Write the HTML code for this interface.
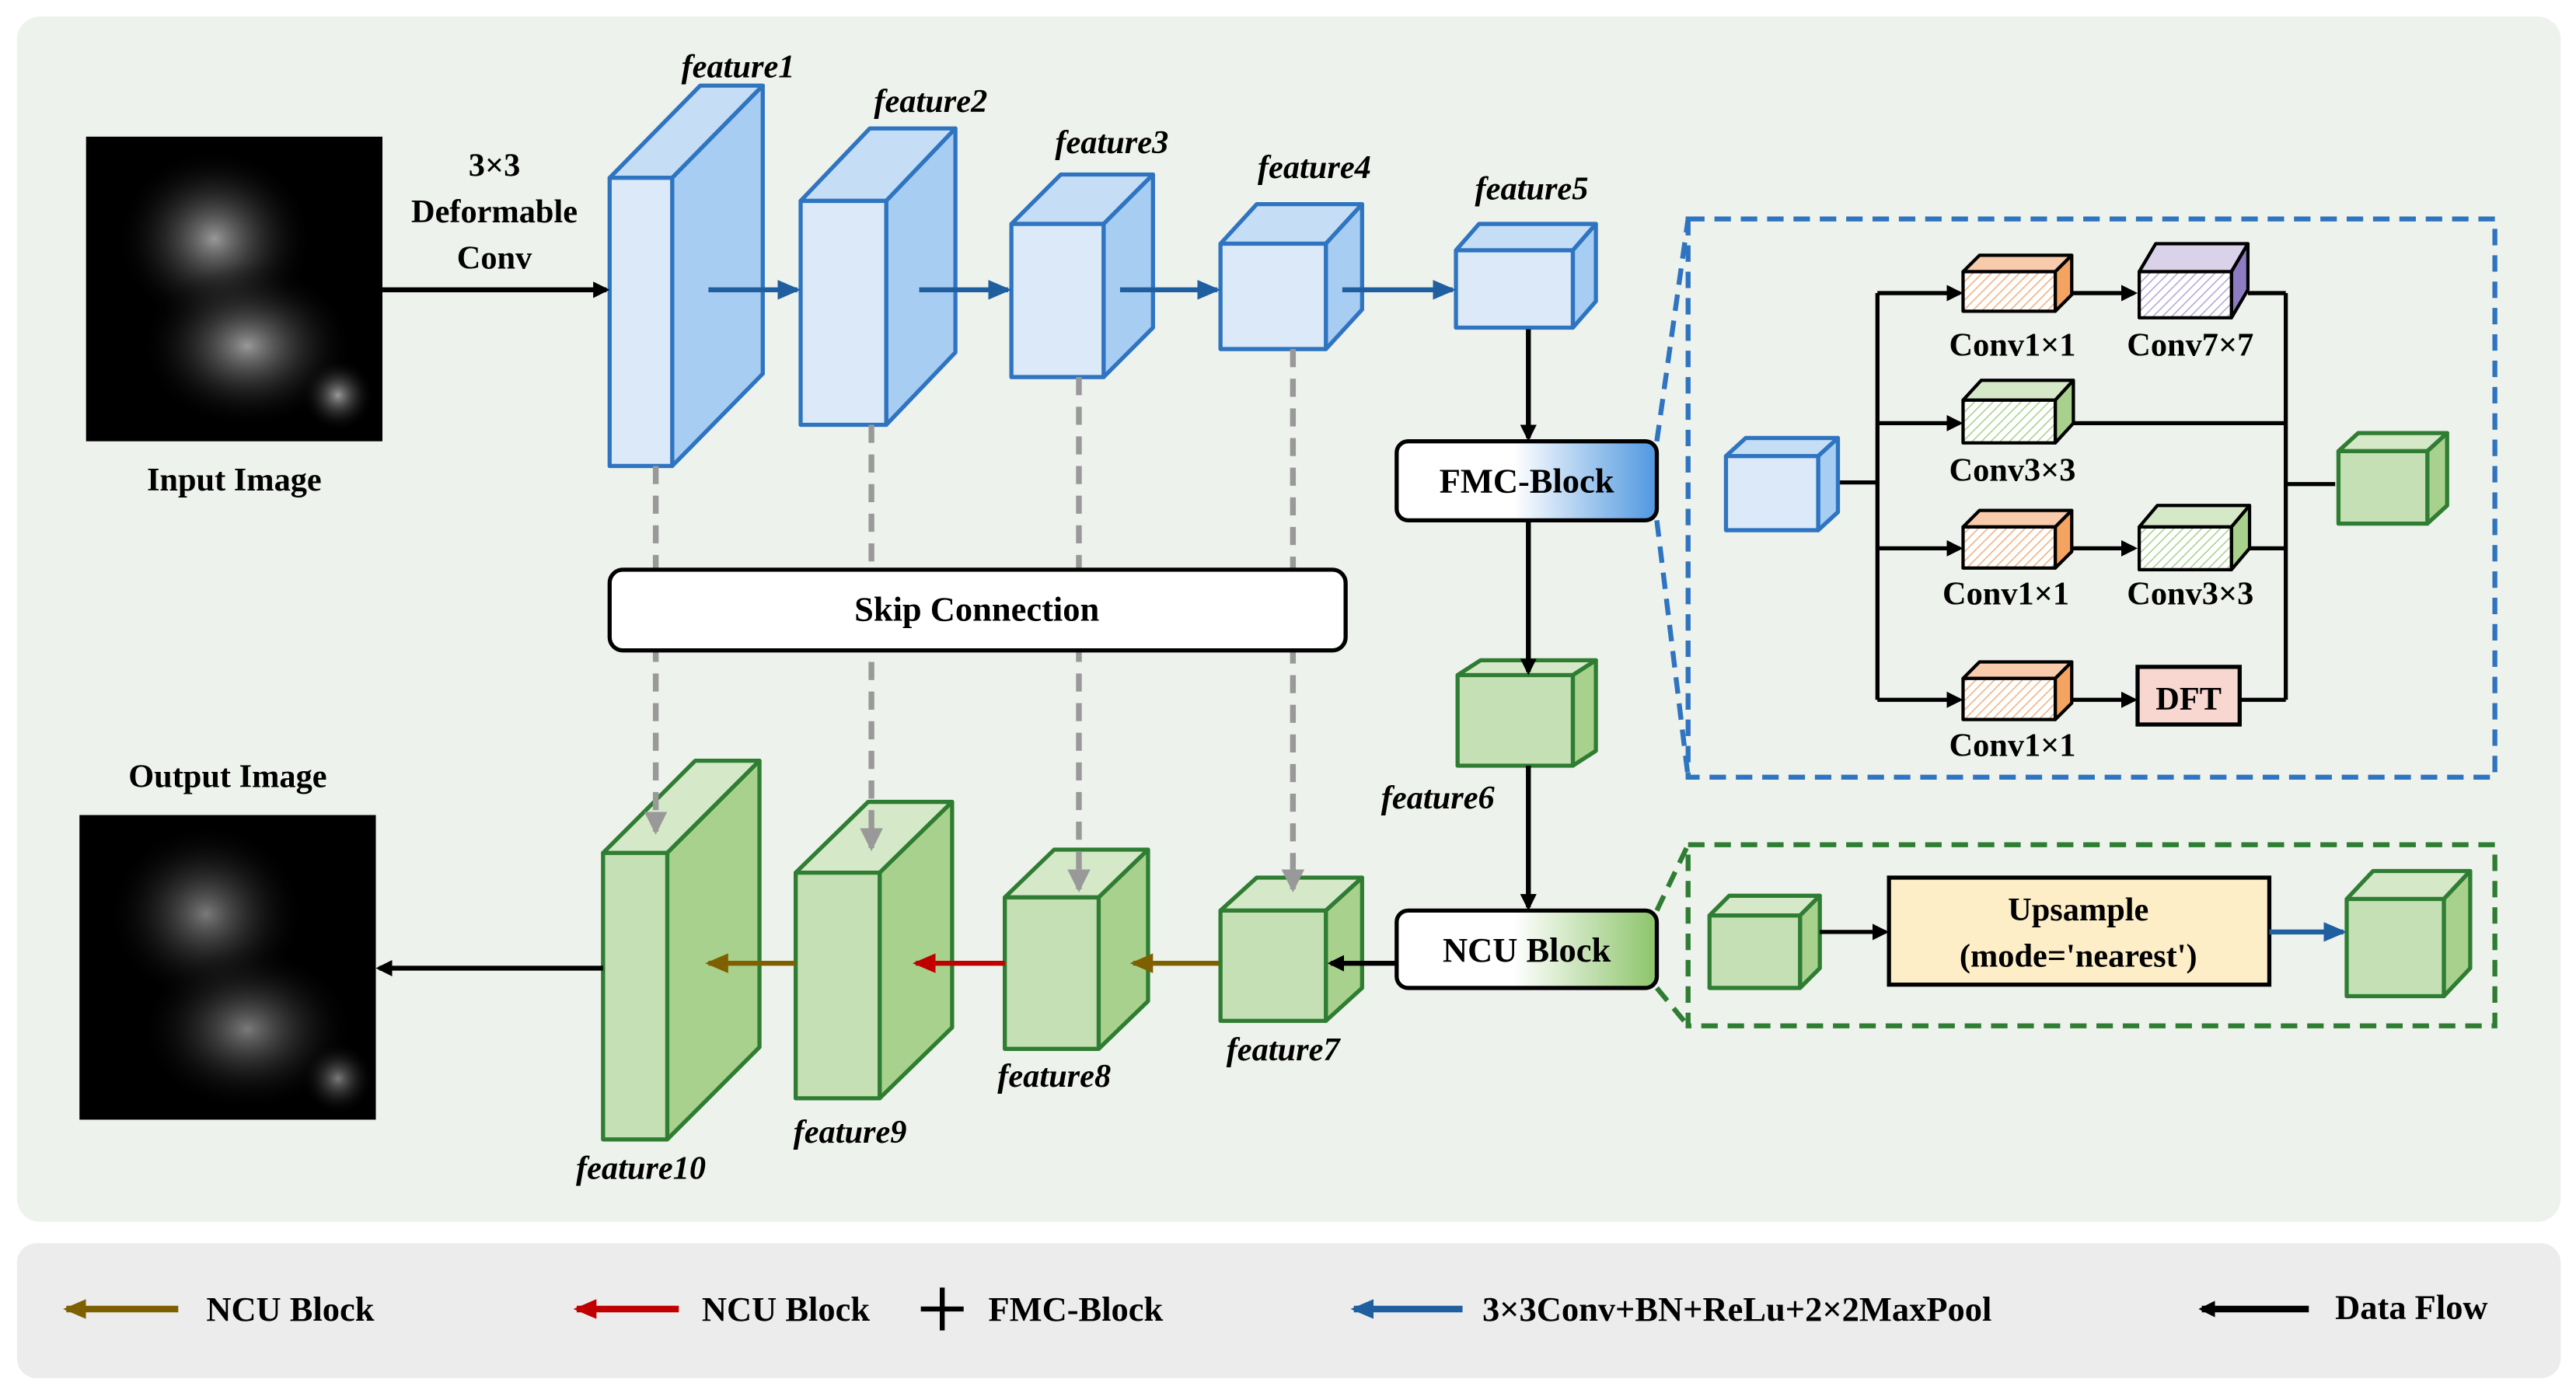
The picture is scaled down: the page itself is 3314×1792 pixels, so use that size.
<!DOCTYPE html>
<html><head><meta charset="utf-8"><style>
html,body{margin:0;padding:0;background:#fff;}
svg{display:block;}
text{font-family:"Liberation Serif",serif;font-weight:bold;fill:#000;}
</style></head><body>
<svg width="3314" height="1792" viewBox="0 0 1564 846" xmlns="http://www.w3.org/2000/svg">
<defs>
<marker id="ak" markerWidth="10" markerHeight="10" refX="8" refY="5" orient="auto" markerUnits="userSpaceOnUse"><path d="M0,0 L10,5 L0,10 z" fill="#000"/></marker>
<marker id="ab" markerWidth="14" markerHeight="12" refX="12" refY="6" orient="auto" markerUnits="userSpaceOnUse"><path d="M0,0 L14,6 L0,12 z" fill="#1f5fa0"/></marker>
<marker id="ag" markerWidth="14" markerHeight="14" refX="12" refY="7" orient="auto" markerUnits="userSpaceOnUse"><path d="M0,0 L14,7 L0,14 z" fill="#999"/></marker>
<marker id="abr" markerWidth="14" markerHeight="12" refX="12" refY="6" orient="auto" markerUnits="userSpaceOnUse"><path d="M0,0 L14,6 L0,12 z" fill="#7f6000"/></marker>
<marker id="ar" markerWidth="14" markerHeight="12" refX="12" refY="6" orient="auto" markerUnits="userSpaceOnUse"><path d="M0,0 L14,6 L0,12 z" fill="#c00000"/></marker>
<linearGradient id="gfmc" x1="0" x2="1"><stop offset="0.45" stop-color="#fff"/><stop offset="1" stop-color="#4f97e0"/></linearGradient>
<linearGradient id="gncu" x1="0" x2="1"><stop offset="0.45" stop-color="#fff"/><stop offset="1" stop-color="#8cc46a"/></linearGradient>
<pattern id="hatch" width="4" height="4" patternUnits="userSpaceOnUse" patternTransform="rotate(45)"><rect width="4" height="4" fill="#fff"/><line x1="0" y1="0" x2="0" y2="4" stroke="#f4b183" stroke-width="1.5"/></pattern>
<pattern id="hatchg" width="4" height="4" patternUnits="userSpaceOnUse" patternTransform="rotate(45)"><rect width="4" height="4" fill="#fff"/><line x1="0" y1="0" x2="0" y2="4" stroke="#a9d18e" stroke-width="1.5"/></pattern>
<pattern id="hatchp" width="4" height="4" patternUnits="userSpaceOnUse" patternTransform="rotate(45)"><rect width="4" height="4" fill="#fff"/><line x1="0" y1="0" x2="0" y2="4" stroke="#b4a7d6" stroke-width="1.5"/></pattern>
<radialGradient id="bear" cx="0.5" cy="0.5" r="0.5"><stop offset="0" stop-color="#999"/><stop offset="1" stop-color="#000" stop-opacity="0"/></radialGradient>
</defs>

<rect x="10" y="10" width="1545" height="732" rx="14" fill="#eef2ec"/>
<rect x="10" y="755" width="1545" height="82" rx="12" fill="#ececec"/>

<!-- images -->
<rect x="52" y="83" width="180" height="185" fill="#000"/>
<ellipse cx="130" cy="145" rx="60" ry="55" fill="url(#bear)"/>
<ellipse cx="150" cy="210" rx="65" ry="50" fill="url(#bear)"/>
<circle cx="205" cy="240" r="22" fill="url(#bear)"/>
<rect x="48" y="495" width="180" height="185" fill="#000"/>
<ellipse cx="125" cy="555" rx="60" ry="55" fill="url(#bear)" opacity="0.8"/>
<ellipse cx="150" cy="625" rx="65" ry="50" fill="url(#bear)" opacity="0.8"/>
<circle cx="205" cy="655" r="22" fill="url(#bear)" opacity="0.8"/>
<text x="142" y="298" font-size="20" text-anchor="middle">Input Image</text>
<text x="138" y="478" font-size="20" text-anchor="middle">Output Image</text>
<text x="300" y="107" font-size="20" text-anchor="middle">3×3</text>
<text x="300" y="135" font-size="20" text-anchor="middle">Deformable</text>
<text x="300" y="163" font-size="20" text-anchor="middle">Conv</text>

<!-- blue cubes -->
<g stroke="#2f74c0" stroke-width="2.5" stroke-linejoin="round">
<path d="M370,108 L425,52 L463,52 L408,108 z" fill="#c5ddf5"/><path d="M408,108 L463,52 L463,227 L408,283 z" fill="#a8cdf2"/><rect x="370" y="108" width="38" height="175" fill="#dbe9f8"/>
<path d="M486,122 L528,78 L580,78 L538,122 z" fill="#c5ddf5"/><path d="M538,122 L580,78 L580,214 L538,258 z" fill="#a8cdf2"/><rect x="486" y="122" width="52" height="136" fill="#dbe9f8"/>
<path d="M614,136 L644,106 L700,106 L670,136 z" fill="#c5ddf5"/><path d="M670,136 L700,106 L700,199 L670,229 z" fill="#a8cdf2"/><rect x="614" y="136" width="56" height="93" fill="#dbe9f8"/>
<path d="M741,148 L763,124 L827,124 L805,148 z" fill="#c5ddf5"/><path d="M805,148 L827,124 L827,188 L805,212 z" fill="#a8cdf2"/><rect x="741" y="148" width="64" height="64" fill="#dbe9f8"/>
<path d="M884,152 L898,136 L969,136 L955,152 z" fill="#c5ddf5"/><path d="M955,152 L969,136 L969,183 L955,199 z" fill="#a8cdf2"/><rect x="884" y="152" width="71" height="47" fill="#dbe9f8"/>
</g>
<!-- green cubes -->
<g stroke="#2e7d32" stroke-width="2.5" stroke-linejoin="round">
<path d="M885,410 L899,401 L969,401 L955,410 z" fill="#d5e8c8"/><path d="M955,410 L969,401 L969,456 L955,465 z" fill="#a9d18e"/><rect x="885" y="410" width="70" height="55" fill="#c5e0b4"/>
<path d="M741,553 L763,533 L827,533 L805,553 z" fill="#d5e8c8"/><path d="M805,553 L827,533 L827,600 L805,620 z" fill="#a9d18e"/><rect x="741" y="553" width="64" height="67" fill="#c5e0b4"/>
<path d="M610,545 L640,516 L697,516 L667,545 z" fill="#d5e8c8"/><path d="M667,545 L697,516 L697,608 L667,637 z" fill="#a9d18e"/><rect x="610" y="545" width="57" height="92" fill="#c5e0b4"/>
<path d="M483,530 L527,487 L578,487 L534,530 z" fill="#d5e8c8"/><path d="M534,530 L578,487 L578,624 L534,667 z" fill="#a9d18e"/><rect x="483" y="530" width="51" height="137" fill="#c5e0b4"/>
<path d="M366,518 L422,462 L461,462 L405,518 z" fill="#d5e8c8"/><path d="M405,518 L461,462 L461,636 L405,692 z" fill="#a9d18e"/><rect x="366" y="518" width="39" height="174" fill="#c5e0b4"/>
</g>

<!-- dashed gray skip lines -->
<g stroke="#999" stroke-width="3.5" stroke-dasharray="11,7" fill="none">
<line x1="398" y1="283" x2="398" y2="505" marker-end="url(#ag)"/>
<line x1="529" y1="258" x2="529" y2="515" marker-end="url(#ag)"/>
<line x1="655" y1="229" x2="655" y2="540" marker-end="url(#ag)"/>
<line x1="785" y1="212" x2="785" y2="540" marker-end="url(#ag)"/>
</g>
<rect x="370" y="346" width="447" height="49" rx="8" fill="#fff" stroke="#000" stroke-width="2.5"/>
<text x="593" y="377" font-size="21" text-anchor="middle">Skip Connection</text>

<!-- feature labels -->
<g font-size="20" font-style="italic" text-anchor="middle">
<text x="448" y="47">feature1</text>
<text x="565" y="68">feature2</text>
<text x="675" y="93">feature3</text>
<text x="798" y="108">feature4</text>
<text x="930" y="121">feature5</text>
<text x="873" y="491">feature6</text>
<text x="779" y="644">feature7</text>
<text x="640" y="660">feature8</text>
<text x="516" y="694">feature9</text>
<text x="389" y="716">feature10</text>
</g>

<!-- main arrows -->
<g stroke-width="3" fill="none">
<line x1="232" y1="176" x2="368" y2="176" stroke="#000" marker-end="url(#ak)"/>
<line x1="430" y1="176" x2="484" y2="176" stroke="#1f5fa0" marker-end="url(#ab)"/>
<line x1="558" y1="176" x2="612" y2="176" stroke="#1f5fa0" marker-end="url(#ab)"/>
<line x1="680" y1="176" x2="739" y2="176" stroke="#1f5fa0" marker-end="url(#ab)"/>
<line x1="815" y1="176" x2="882" y2="176" stroke="#1f5fa0" marker-end="url(#ab)"/>
<line x1="928" y1="200" x2="928" y2="266" stroke="#000" marker-end="url(#ak)"/>
<line x1="928" y1="316" x2="928" y2="408" stroke="#000" marker-end="url(#ak)"/>
<line x1="928" y1="465" x2="928" y2="551" stroke="#000" marker-end="url(#ak)"/>
<line x1="848" y1="585" x2="808" y2="585" stroke="#000" marker-end="url(#ak)"/>
<line x1="740" y1="585" x2="688" y2="585" stroke="#7f6000" marker-end="url(#abr)"/>
<line x1="610" y1="585" x2="556" y2="585" stroke="#c00000" marker-end="url(#ar)"/>
<line x1="483" y1="585" x2="430" y2="585" stroke="#7f6000" marker-end="url(#abr)"/>
<line x1="366" y1="588" x2="230" y2="588" stroke="#000" marker-end="url(#ak)"/>
</g>

<!-- FMC / NCU -->
<rect x="848" y="268" width="158" height="48" rx="7" fill="url(#gfmc)" stroke="#000" stroke-width="2.5"/>
<text x="927" y="299" font-size="21" text-anchor="middle">FMC-Block</text>
<rect x="848" y="553" width="158" height="47" rx="7" fill="url(#gncu)" stroke="#000" stroke-width="2.5"/>
<text x="927" y="584" font-size="21" text-anchor="middle">NCU Block</text>

<!-- dashed expansion boxes -->
<g fill="none" stroke-width="3" stroke-dasharray="10,6">
<rect x="1025" y="133" width="490" height="339" stroke="#2f74c0"/>
<line x1="1006" y1="268" x2="1025" y2="133" stroke="#2f74c0"/>
<line x1="1006" y1="316" x2="1025" y2="472" stroke="#2f74c0"/>
<rect x="1025" y="513" width="490" height="110" stroke="#2e7d32"/>
<line x1="1006" y1="553" x2="1025" y2="513" stroke="#2e7d32"/>
<line x1="1006" y1="600" x2="1025" y2="623" stroke="#2e7d32"/>
</g>

<!-- FMC internals -->
<g stroke="#000" stroke-width="2.5" fill="none">
<line x1="1116" y1="293" x2="1140" y2="293"/>
<line x1="1140" y1="178" x2="1140" y2="425"/>
<line x1="1140" y1="178" x2="1190" y2="178" marker-end="url(#ak)"/>
<line x1="1140" y1="257" x2="1190" y2="257" marker-end="url(#ak)"/>
<line x1="1140" y1="333" x2="1190" y2="333" marker-end="url(#ak)"/>
<line x1="1140" y1="425" x2="1190" y2="425" marker-end="url(#ak)"/>
<line x1="1258" y1="178" x2="1296" y2="178" marker-end="url(#ak)"/>
<line x1="1258" y1="333" x2="1296" y2="333" marker-end="url(#ak)"/>
<line x1="1258" y1="425" x2="1296" y2="425" marker-end="url(#ak)"/>
<line x1="1365" y1="178" x2="1388" y2="178"/>
<line x1="1258" y1="257" x2="1388" y2="257"/>
<line x1="1365" y1="333" x2="1388" y2="333"/>
<line x1="1360" y1="425" x2="1388" y2="425"/>
<line x1="1388" y1="178" x2="1388" y2="425"/>
<line x1="1388" y1="294" x2="1418" y2="294"/>
</g>
<g stroke="#2f74c0" stroke-width="2.5" stroke-linejoin="round">
<path d="M1048,277 L1060,266 L1116,266 L1104,277 z" fill="#c5ddf5"/><path d="M1104,277 L1116,266 L1116,311 L1104,322 z" fill="#a8cdf2"/><rect x="1048" y="277" width="56" height="45" fill="#dbe9f8"/>
</g>
<g stroke="#000" stroke-width="2" stroke-linejoin="round">
<path d="M1192,165 L1202,155 L1258,155 L1248,165 z" fill="#f8cbad"/><path d="M1248,165 L1258,155 L1258,179 L1248,189 z" fill="#f4a460"/><rect x="1192" y="165" width="56" height="24" fill="url(#hatch)"/>
<path d="M1299,165 L1309,148 L1365,148 L1355,165 z" fill="#d9d2e9"/><path d="M1355,165 L1365,148 L1365,176 L1355,193 z" fill="#8e7cc3"/><rect x="1299" y="165" width="56" height="28" fill="url(#hatchp)"/>
<path d="M1192,243 L1203,231 L1259,231 L1248,243 z" fill="#d5e8c8"/><path d="M1248,243 L1259,231 L1259,257 L1248,269 z" fill="#a9d18e"/><rect x="1192" y="243" width="56" height="26" fill="url(#hatchg)"/>
<path d="M1192,320 L1202,310 L1258,310 L1248,320 z" fill="#f8cbad"/><path d="M1248,320 L1258,310 L1258,335 L1248,345 z" fill="#f4a460"/><rect x="1192" y="320" width="56" height="25" fill="url(#hatch)"/>
<path d="M1299,320 L1310,307 L1366,307 L1355,320 z" fill="#d5e8c8"/><path d="M1355,320 L1366,307 L1366,333 L1355,346 z" fill="#a9d18e"/><rect x="1299" y="320" width="56" height="26" fill="url(#hatchg)"/>
<path d="M1192,412 L1202,402 L1258,402 L1248,412 z" fill="#f8cbad"/><path d="M1248,412 L1258,402 L1258,427 L1248,437 z" fill="#f4a460"/><rect x="1192" y="412" width="56" height="25" fill="url(#hatch)"/>
</g>
<rect x="1298" y="405" width="62" height="35" fill="#f8d7d0" stroke="#000" stroke-width="2.5"/>
<text x="1329" y="431" font-size="20" text-anchor="middle">DFT</text>
<g stroke="#2e7d32" stroke-width="2.5" stroke-linejoin="round">
<path d="M1420,274 L1432,263 L1486,263 L1474,274 z" fill="#d5e8c8"/><path d="M1474,274 L1486,263 L1486,307 L1474,318 z" fill="#a9d18e"/><rect x="1420" y="274" width="54" height="44" fill="#c5e0b4"/>
</g>
<g font-size="20" text-anchor="middle">
<text x="1222" y="216">Conv1×1</text>
<text x="1330" y="216">Conv7×7</text>
<text x="1222" y="292">Conv3×3</text>
<text x="1218" y="367">Conv1×1</text>
<text x="1330" y="367">Conv3×3</text>
<text x="1222" y="459">Conv1×1</text>
</g>

<!-- NCU internals -->
<g stroke="#2e7d32" stroke-width="2.5" stroke-linejoin="round">
<path d="M1038,556 L1050,544 L1105,544 L1093,556 z" fill="#d5e8c8"/><path d="M1093,556 L1105,544 L1105,588 L1093,600 z" fill="#a9d18e"/><rect x="1038" y="556" width="55" height="44" fill="#c5e0b4"/>
<path d="M1425,546 L1441,529 L1500,529 L1484,546 z" fill="#d5e8c8"/><path d="M1484,546 L1500,529 L1500,588 L1484,605 z" fill="#a9d18e"/><rect x="1425" y="546" width="59" height="59" fill="#c5e0b4"/>
</g>
<line x1="1105" y1="566" x2="1145" y2="566" stroke="#000" stroke-width="2.5" marker-end="url(#ak)"/>
<rect x="1147" y="533" width="231" height="65" fill="#fdeec8" stroke="#000" stroke-width="2.5"/>
<text x="1262" y="559" font-size="20" text-anchor="middle">Upsample</text>
<text x="1262" y="587" font-size="20" text-anchor="middle">(mode='nearest')</text>
<line x1="1378" y1="566" x2="1423" y2="566" stroke="#1f5fa0" stroke-width="3" marker-end="url(#ab)"/>

<!-- legend -->
<g stroke-width="4">
<line x1="108" y1="795" x2="40" y2="795" stroke="#7f6000" marker-end="url(#abr)"/>
<line x1="412" y1="795" x2="350" y2="795" stroke="#c00000" marker-end="url(#ar)"/>
<line x1="888" y1="795" x2="822" y2="795" stroke="#1f5fa0" marker-end="url(#ab)"/>
<line x1="1402" y1="795" x2="1337" y2="795" stroke="#000" marker-end="url(#ak)"/>
<line x1="572" y1="782" x2="572" y2="808" stroke="#000" stroke-width="3"/>
<line x1="559" y1="795" x2="585" y2="795" stroke="#000" stroke-width="3"/>
</g>
<g font-size="21">
<text x="125" y="802">NCU Block</text>
<text x="426" y="802">NCU Block</text>
<text x="600" y="802">FMC-Block</text>
<text x="900" y="802">3×3Conv+BN+ReLu+2×2MaxPool</text>
<text x="1418" y="801">Data Flow</text>
</g>
</svg>
</body></html>
